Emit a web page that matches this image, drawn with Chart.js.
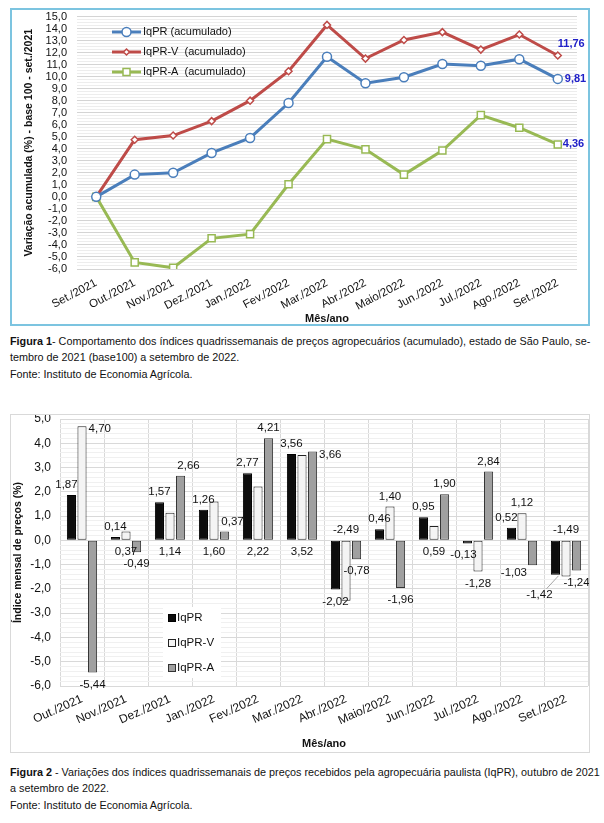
<!DOCTYPE html>
<html>
<head>
<meta charset="utf-8">
<script src="https://cdn.jsdelivr.net/npm/chart.js@4.4.0/dist/chart.umd.min.js"></script>
<style>
  body { margin:0; background:#fff; width:604px; height:823px; position:relative; overflow:hidden;
         font-family:"Liberation Sans", Arial, sans-serif; color:#111; }
  .box1 { position:absolute; left:10px; top:8px; width:576px; height:314px; border:2px solid #7cc4e0; }
  .box2 { position:absolute; left:10px; top:414px; width:578px; height:337px; border:1px solid #d9d9d9; }
  .cap { position:absolute; left:10px; width:590px; font-size:10.8px; line-height:16.4px; white-space:nowrap; }
  .cap b { font-weight:bold; }
</style>
</head>
<body>
<div class="box1"><canvas id="accChart"></canvas></div>
<div class="cap" style="top:333px"><b>Figura 1</b>- Comportamento dos índices quadrissemanais de preços agropecuários (acumulado), estado de São Paulo, se-<br>tembro de 2021 (base100) a setembro de 2022.<br>Fonte: Instituto de Economia Agrícola.</div>
<div class="box2"><canvas id="monthChart"></canvas></div>
<div class="cap" style="top:764px"><b>Figura 2</b> - Variações dos índices quadrissemanais de preços recebidos pela agropecuária paulista (IqPR), outubro de 2021<br>a setembro de 2022.<br>Fonte: Instituto de Economia Agrícola.</div>

<script>
// --- Figura 1: accumulated index (base 100 = set./2021)
const accMonths = ['Set./2021','Out./2021','Nov./2021','Dez./2021','Jan./2022','Fev./2022','Mar./2022',
                   'Abr./2022','Maio/2022','Jun./2022','Jul./2022','Ago./2022','Set./2022'];
const accIqpr  = [0, 1.85, 2.0, 3.65, 4.9, 7.8, 11.65, 9.45, 9.95, 11.05, 10.9, 11.45, 9.81];
const accIqprV = [0, 4.75, 5.1, 6.3, 8.0, 10.45, 14.3, 11.5, 13.05, 13.7, 12.25, 13.5, 11.76];
const accIqprA = [0, -5.45, -5.9, -3.45, -3.1, 1.05, 4.8, 3.95, 1.85, 3.85, 6.8, 5.75, 4.36];

// --- Figura 2: monthly index (%)
const monMonths = ['Out./2021','Nov./2021','Dez./2021','Jan./2022','Fev./2022','Mar./2022',
                   'Abr./2022','Maio/2022','Jun./2022','Jul./2022','Ago./2022','Set./2022'];
const monIqpr  = [1.87, 0.14, 1.57, 1.26, 2.77, 3.56, -2.02, 0.46, 0.95, -0.13, 0.52, -1.42];
const monIqprV = [4.70, 0.37, 1.14, 1.60, 2.22, 3.52, -2.49, 1.40, 0.59, -1.28, 1.12, -1.49];
const monIqprA = [-5.44, -0.49, 2.66, 0.37, 4.21, 3.66, -0.78, -1.96, 1.90, 2.84, -1.03, -1.24];

// where each bar label sits (t top, b bottom, z other side of zero, r right, tl/tr/bl shifted, bL left of end, lead = with leader line)
const monAnchors = [
  ['tl','t','t','t','t','t','b','t','t','bl','tl','lead'],
  ['r','z','z','z','z','z','z','t','z','b','t','z'],
  ['b','b','tr','tr','t','r','b','b','t','t','bL','b']
];

const FONT = '"Liberation Sans", Arial, sans-serif';
const fmt = (v, d) => v.toFixed(d).replace('.', ',');
const isInt = v => Math.abs(v - Math.round(v)) < 1e-6;
// keep the plot edge where the reference has it (no extra room for the end tick labels)
const noPad = s => { s.paddingTop = 0; s.paddingBottom = 0; };

// ---------- chart 1
const accLegend = {
  id: 'accLegend',
  afterDraw(chart) {
    const ctx = chart.ctx;
    const names = ['IqPR (acumulado)', 'IqPR-V  (acumulado)', 'IqPR-A  (acumulado)'];
    ctx.save();
    chart.data.datasets.forEach((ds, k) => {
      const y = 22 + k * 20;
      ctx.strokeStyle = ds.borderColor; ctx.lineWidth = 3;
      ctx.beginPath(); ctx.moveTo(100, y); ctx.lineTo(129, y); ctx.stroke();
      ctx.fillStyle = '#fff'; ctx.lineWidth = 1.5;
      ctx.beginPath();
      if (ds.pointStyle === 'circle') ctx.arc(114.5, y, ds.pointRadius, 0, Math.PI * 2);
      else if (ds.pointStyle === 'rect') ctx.rect(111, y - 3.5, 7, 7);
      else { ctx.moveTo(114.5, y - 3); ctx.lineTo(117.5, y); ctx.lineTo(114.5, y + 3); ctx.lineTo(111.5, y); ctx.closePath(); }
      ctx.fill(); ctx.stroke();
      ctx.fillStyle = '#111'; ctx.font = '11px ' + FONT; ctx.textBaseline = 'middle'; ctx.textAlign = 'left';
      ctx.fillText(names[k], 131, y);
    });
    // end values
    ctx.fillStyle = '#2020c8'; ctx.font = 'bold 11px ' + FONT;
    const last = chart.data.labels.length - 1;
    [[0, 7, 0], [1, 0, -11], [2, 5, 0]].forEach(([di, dx, dy]) => {
      const p = chart.getDatasetMeta(di).data[last];
      ctx.fillText(fmt(chart.data.datasets[di].data[last], 2), p.x + dx, p.y + dy);
    });
    ctx.restore();
  }
};

new Chart(document.getElementById('accChart'), {
  type: 'line',
  data: {
    labels: accMonths,
    datasets: [
      { label: 'IqPR (acumulado)', data: accIqpr, borderColor: '#4a7ebb', borderWidth: 3, pointStyle: 'circle',
        pointRadius: 4.5, pointBackgroundColor: '#fff', pointBorderColor: '#4a7ebb', pointBorderWidth: 1.5 },
      { label: 'IqPR-V  (acumulado)', data: accIqprV, borderColor: '#be4b48', borderWidth: 3, pointStyle: 'rectRot',
        pointRadius: 3.5, pointBackgroundColor: '#fff', pointBorderColor: '#be4b48', pointBorderWidth: 1.5 },
      { label: 'IqPR-A  (acumulado)', data: accIqprA, borderColor: '#98b954', borderWidth: 3, pointStyle: 'rect',
        pointRadius: 5, pointBackgroundColor: '#fff', pointBorderColor: '#98b954', pointBorderWidth: 1.5 }
    ]
  },
  options: {
    responsive: true, maintainAspectRatio: false, animation: false,
    layout: { padding: { top: 5, right: 11, left: 0, bottom: 0 } },
    plugins: { legend: { display: false }, tooltip: { enabled: false } },
    elements: { line: { tension: 0 } },
    scales: {
      x: {
        offset: true,
        grid: { display: false, drawTicks: false }, border: { display: false },
        ticks: { color: '#111', font: { family: FONT, size: 11.5 }, minRotation: 28, maxRotation: 28, padding: 7, autoSkip: false },
        title: { display: true, text: 'Mês/ano', color: '#111', font: { family: FONT, size: 11, weight: 'bold', lineHeight: 1 }, padding: 0 },
        afterFit: s => { s.height = 55; }
      },
      y: {
        min: -6, max: 15,
        grid: { color: c => isInt(c.tick.value) ? '#d4d4d4' : '#ededed', drawTicks: false }, border: { display: false },
        ticks: { stepSize: 0.25, autoSkip: false, color: '#111', font: { family: FONT, size: 11 }, padding: 10,
                 callback: v => isInt(v) ? fmt(Math.round(v) + 0, 1) : '' },
        title: { display: true, text: 'Variação acumulada (%) - base 100 - set./2021', color: '#111',
                 font: { family: FONT, size: 10.5, weight: 'bold' }, padding: { top: 11, bottom: 0 } },
        afterFit: s => { s.width = 65; noPad(s); }
      }
    }
  },
  plugins: [accLegend]
});

// ---------- chart 2
const monLabels = {
  id: 'monLabels',
  afterDatasetsDraw(chart) {
    const ctx = chart.ctx;
    const zeroY = chart.scales.y.getPixelForValue(0);
    ctx.save();
    ctx.font = '11.5px ' + FONT; ctx.fillStyle = '#111'; ctx.textBaseline = 'middle';
    chart.data.datasets.forEach((ds, di) => {
      chart.getDatasetMeta(di).data.forEach((bar, i) => {
        const v = ds.data[i];
        const a = monAnchors[di][i];
        const top = Math.min(bar.y, bar.base), bot = Math.max(bar.y, bar.base);
        const w = bar.width;
        let x = bar.x, y, align = 'center';
        if (a === 't') y = top - 10;
        else if (a === 'tl') { x -= 5; y = top - 10; }
        else if (a === 'tr') { x += 8; y = top - 10; }
        else if (a === 'b') y = bot + 12;
        else if (a === 'bl') { x -= 4; y = bot + 11; }
        else if (a === 'bL') { x -= w / 2 + 1; y = bot + 7; align = 'right'; }
        else if (a === 'r') { x += w / 2 + 2; y = bar.y + 3; align = 'left'; }
        else if (a === 'z') y = v >= 0 ? zeroY + 11 : zeroY - 11;
        else if (a === 'lead') {
          x -= 16; y = bot + 20;
          ctx.strokeStyle = '#a6a6a6'; ctx.lineWidth = 1;
          ctx.beginPath(); ctx.moveTo(x + 7, y - 6); ctx.lineTo(bar.x + 3, bot + 1); ctx.stroke();
        }
        ctx.textAlign = align;
        ctx.fillText(fmt(v, 2), x, y);
      });
    });
    ctx.restore();
  },
  afterDraw(chart) {
    const ctx = chart.ctx;
    ctx.save();
    ctx.fillStyle = '#fff';
    ctx.fillRect(152, 192, 58, 71);
    ctx.font = '11.5px ' + FONT; ctx.textBaseline = 'middle'; ctx.textAlign = 'left';
    chart.data.datasets.forEach((ds, k) => {
      const y = 203 + k * 25;
      ctx.fillStyle = ds.backgroundColor; ctx.strokeStyle = ds.borderColor; ctx.lineWidth = 1;
      ctx.fillRect(157.5, y - 3.5, 7, 7); ctx.strokeRect(157.5, y - 3.5, 7, 7);
      ctx.fillStyle = '#111';
      ctx.fillText(ds.label, 166, y);
    });
    ctx.restore();
  }
};

new Chart(document.getElementById('monthChart'), {
  type: 'bar',
  data: {
    labels: monMonths,
    datasets: [
      { label: 'IqPR', data: monIqpr, backgroundColor: '#0d0d0d', borderColor: '#000', borderWidth: 1, borderSkipped: false },
      { label: 'IqPR-V', data: monIqprV, backgroundColor: '#f4f4f4', borderColor: '#222', borderWidth: 1, borderSkipped: false },
      { label: 'IqPR-A', data: monIqprA, backgroundColor: '#a0a0a0', borderColor: '#333', borderWidth: 1, borderSkipped: false }
    ]
  },
  options: {
    responsive: true, maintainAspectRatio: false, animation: false,
    categoryPercentage: 0.72, barPercentage: 0.86,
    layout: { padding: { top: 4, right: 1, left: 0, bottom: 0 } },
    plugins: { legend: { display: false }, tooltip: { enabled: false } },
    scales: {
      x: {
        grid: { color: '#d9d9d9', drawTicks: false, offset: true }, border: { display: false },
        ticks: { color: '#111', font: { family: FONT, size: 12 }, minRotation: 24, maxRotation: 24, padding: 6, autoSkip: false },
        title: { display: true, text: 'Mês/ano', color: '#111', font: { family: FONT, size: 11, weight: 'bold', lineHeight: 1 }, padding: { top: 0, bottom: 3 } },
        afterFit: s => { s.height = 66; }
      },
      y: {
        min: -6, max: 5,
        grid: { color: c => isInt(c.tick.value) ? '#d9d9d9' : '#f0f0f0', drawTicks: false }, border: { display: false },
        ticks: { stepSize: 0.2, autoSkip: false, color: '#111', font: { family: FONT, size: 12 }, padding: 9,
                 callback: v => isInt(v) ? fmt(Math.round(v) + 0, 1) : '' },
        title: { display: true, text: 'Índice mensal de preços (%)', color: '#111',
                 font: { family: FONT, size: 10.5, weight: 'bold' }, padding: { top: 1, bottom: 0 } },
        afterFit: s => { s.width = 49; noPad(s); }
      }
    }
  },
  plugins: [monLabels]
});
</script>
</body>
</html>
